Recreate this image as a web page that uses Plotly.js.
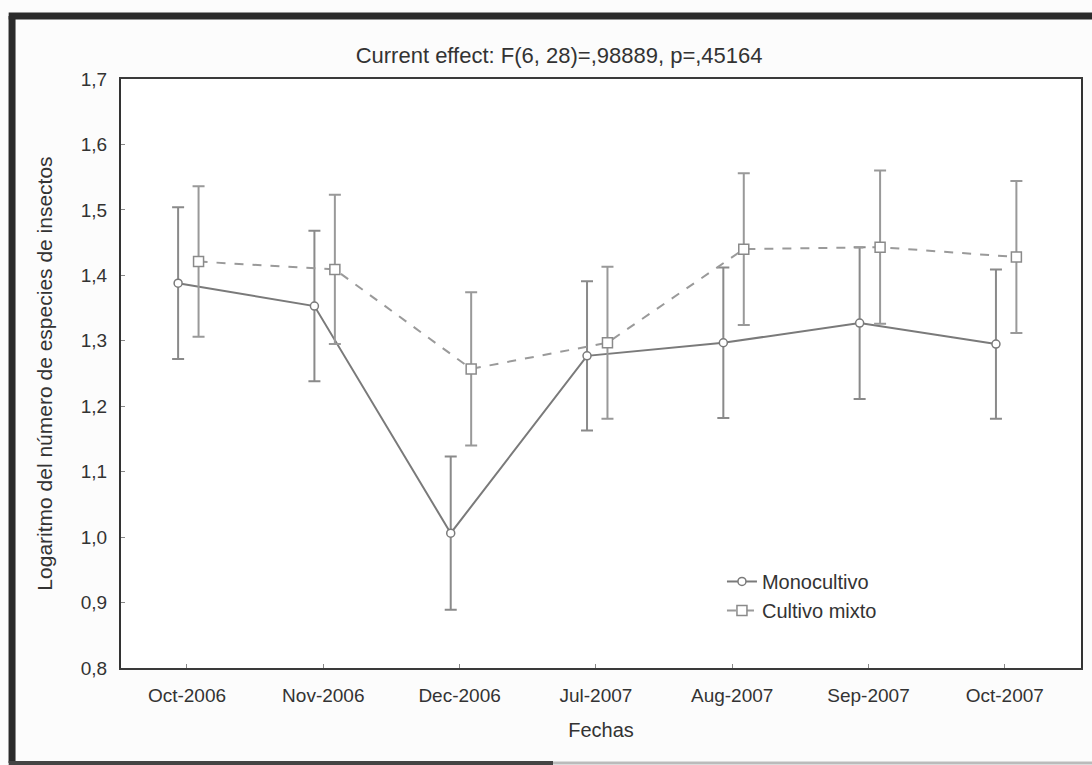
<!DOCTYPE html>
<html>
<head>
<meta charset="utf-8">
<script src="https://cdn.plot.ly/plotly-3.0.1.min.js"></script>
<style>
  html, body { margin: 0; padding: 0; background: #fcfcfc; }
  #chart { width: 1092px; height: 765px; }
</style>
</head>
<body>
<div id="chart"></div>
<script>
// ---- Data ----
const categories = ["Oct-2006", "Nov-2006", "Dec-2006", "Jul-2007", "Aug-2007", "Sep-2007", "Oct-2007"];
const monocultivo = [1.388, 1.353, 1.006, 1.277, 1.297, 1.327, 1.295];
const monocultivoErr = [0.116, 0.115, 0.117, 0.114, 0.115, 0.116, 0.114];
const cultivoMixto = [1.421, 1.409, 1.257, 1.297, 1.440, 1.443, 1.428];
const cultivoMixtoErr = [0.115, 0.114, 0.117, 0.116, 0.116, 0.117, 0.116];
const yTicks = [0.8, 0.9, 1.0, 1.1, 1.2, 1.3, 1.4, 1.5, 1.6, 1.7];

// ---- Style constants ----
const FONT = '"Liberation Sans", Arial, sans-serif';
const TXT = '#333333';
const idx = categories.map((_, i) => i);
const OFF_MONO = -0.065, OFF_MIX = 0.085;

const traces = [
  {
    name: 'Monocultivo',
    type: 'scatter', mode: 'lines+markers',
    x: idx.map(i => i + OFF_MONO), y: monocultivo,
    line: { color: '#7a7a7a', width: 2 },
    marker: { symbol: 'circle', size: 8, color: '#ffffff', line: { color: '#7a7a7a', width: 1.5 } },
    error_y: { type: 'data', array: monocultivoErr, visible: true, color: '#8a8a8a', thickness: 2, width: 6 }
  },
  {
    name: 'Cultivo mixto',
    type: 'scatter', mode: 'lines+markers',
    x: idx.map(i => i + OFF_MIX), y: cultivoMixto,
    line: { color: '#9a9a9a', width: 2, dash: 'dash' },
    marker: { symbol: 'square', size: 10, color: '#ffffff', line: { color: '#8a8a8a', width: 1.5 } },
    error_y: { type: 'data', array: cultivoMixtoErr, visible: true, color: '#999999', thickness: 2, width: 6 }
  }
];

const layout = {
  width: 1092, height: 765,
  margin: { l: 121, r: 11, t: 79, b: 97, pad: 0 },
  paper_bgcolor: '#fcfcfc', plot_bgcolor: '#ffffff',
  separators: ',.',
  font: { family: FONT, color: TXT, size: 19 },
  showlegend: true,
  title: {
    text: 'Current effect: F(6, 28)=,98889, p=,45164',
    font: { family: FONT, size: 22, color: TXT },
    xref: 'container', x: 0.512, xanchor: 'center',
    yref: 'container', y: 0.928, yanchor: 'middle'
  },
  xaxis: {
    range: [-0.484, 6.559],
    tickmode: 'array', tickvals: idx, ticktext: categories,
    ticks: 'inside', ticklen: 4, tickcolor: '#888', tickwidth: 1,
    showgrid: false, zeroline: false,
    showline: true, linecolor: '#3a3a3a', linewidth: 2, mirror: true,
    tickfont: { family: FONT, size: 19, color: TXT },
    ticklabelstandoff: 9,
    title: { text: 'Fechas', font: { family: FONT, size: 20, color: TXT }, standoff: 18 }
  },
  yaxis: {
    range: [0.8, 1.7],
    tickmode: 'array', tickvals: yTicks, tickformat: '.1f',
    ticks: 'inside', ticklen: 4, tickcolor: '#888', tickwidth: 1,
    showgrid: false, zeroline: false,
    showline: true, linecolor: '#333333', linewidth: 2, mirror: true,
    tickfont: { family: FONT, size: 19, color: TXT },
    ticklabelstandoff: 8,
    title: { text: 'Logaritmo del número de especies de insectos', font: { family: FONT, size: 21, color: TXT }, standoff: 22 }
  },
  legend: {
    x: 0.626, y: 0.18, xanchor: 'left', yanchor: 'top',
    bgcolor: 'rgba(0,0,0,0)', borderwidth: 0,
    font: { family: FONT, size: 20, color: TXT },
    tracegroupgap: 0
  },
  shapes: [
    // outer dark frame of the scanned figure
    { type: 'line', xref: 'paper', yref: 'paper', x0: -0.1135, x1: -0.1135, y0: 1.107, y1: -0.1613, line: { color: '#2b2b2b', width: 7 } },
    { type: 'line', xref: 'paper', yref: 'paper', x0: -0.117, x1: 1.02, y0: 1.107, y1: 1.107, line: { color: '#2b2b2b', width: 7 } },
    { type: 'line', xref: 'paper', yref: 'paper', x0: -0.117, x1: 0.45, y0: -0.1613, y1: -0.1613, line: { color: '#444444', width: 4 } },
    { type: 'line', xref: 'paper', yref: 'paper', x0: 0.45, x1: 1.02, y0: -0.1613, y1: -0.1613, line: { color: '#bbbbbb', width: 3 } }
  ]
};

Plotly.newPlot('chart', traces, layout, { displayModeBar: false, staticPlot: true });
</script>
</body>
</html>
